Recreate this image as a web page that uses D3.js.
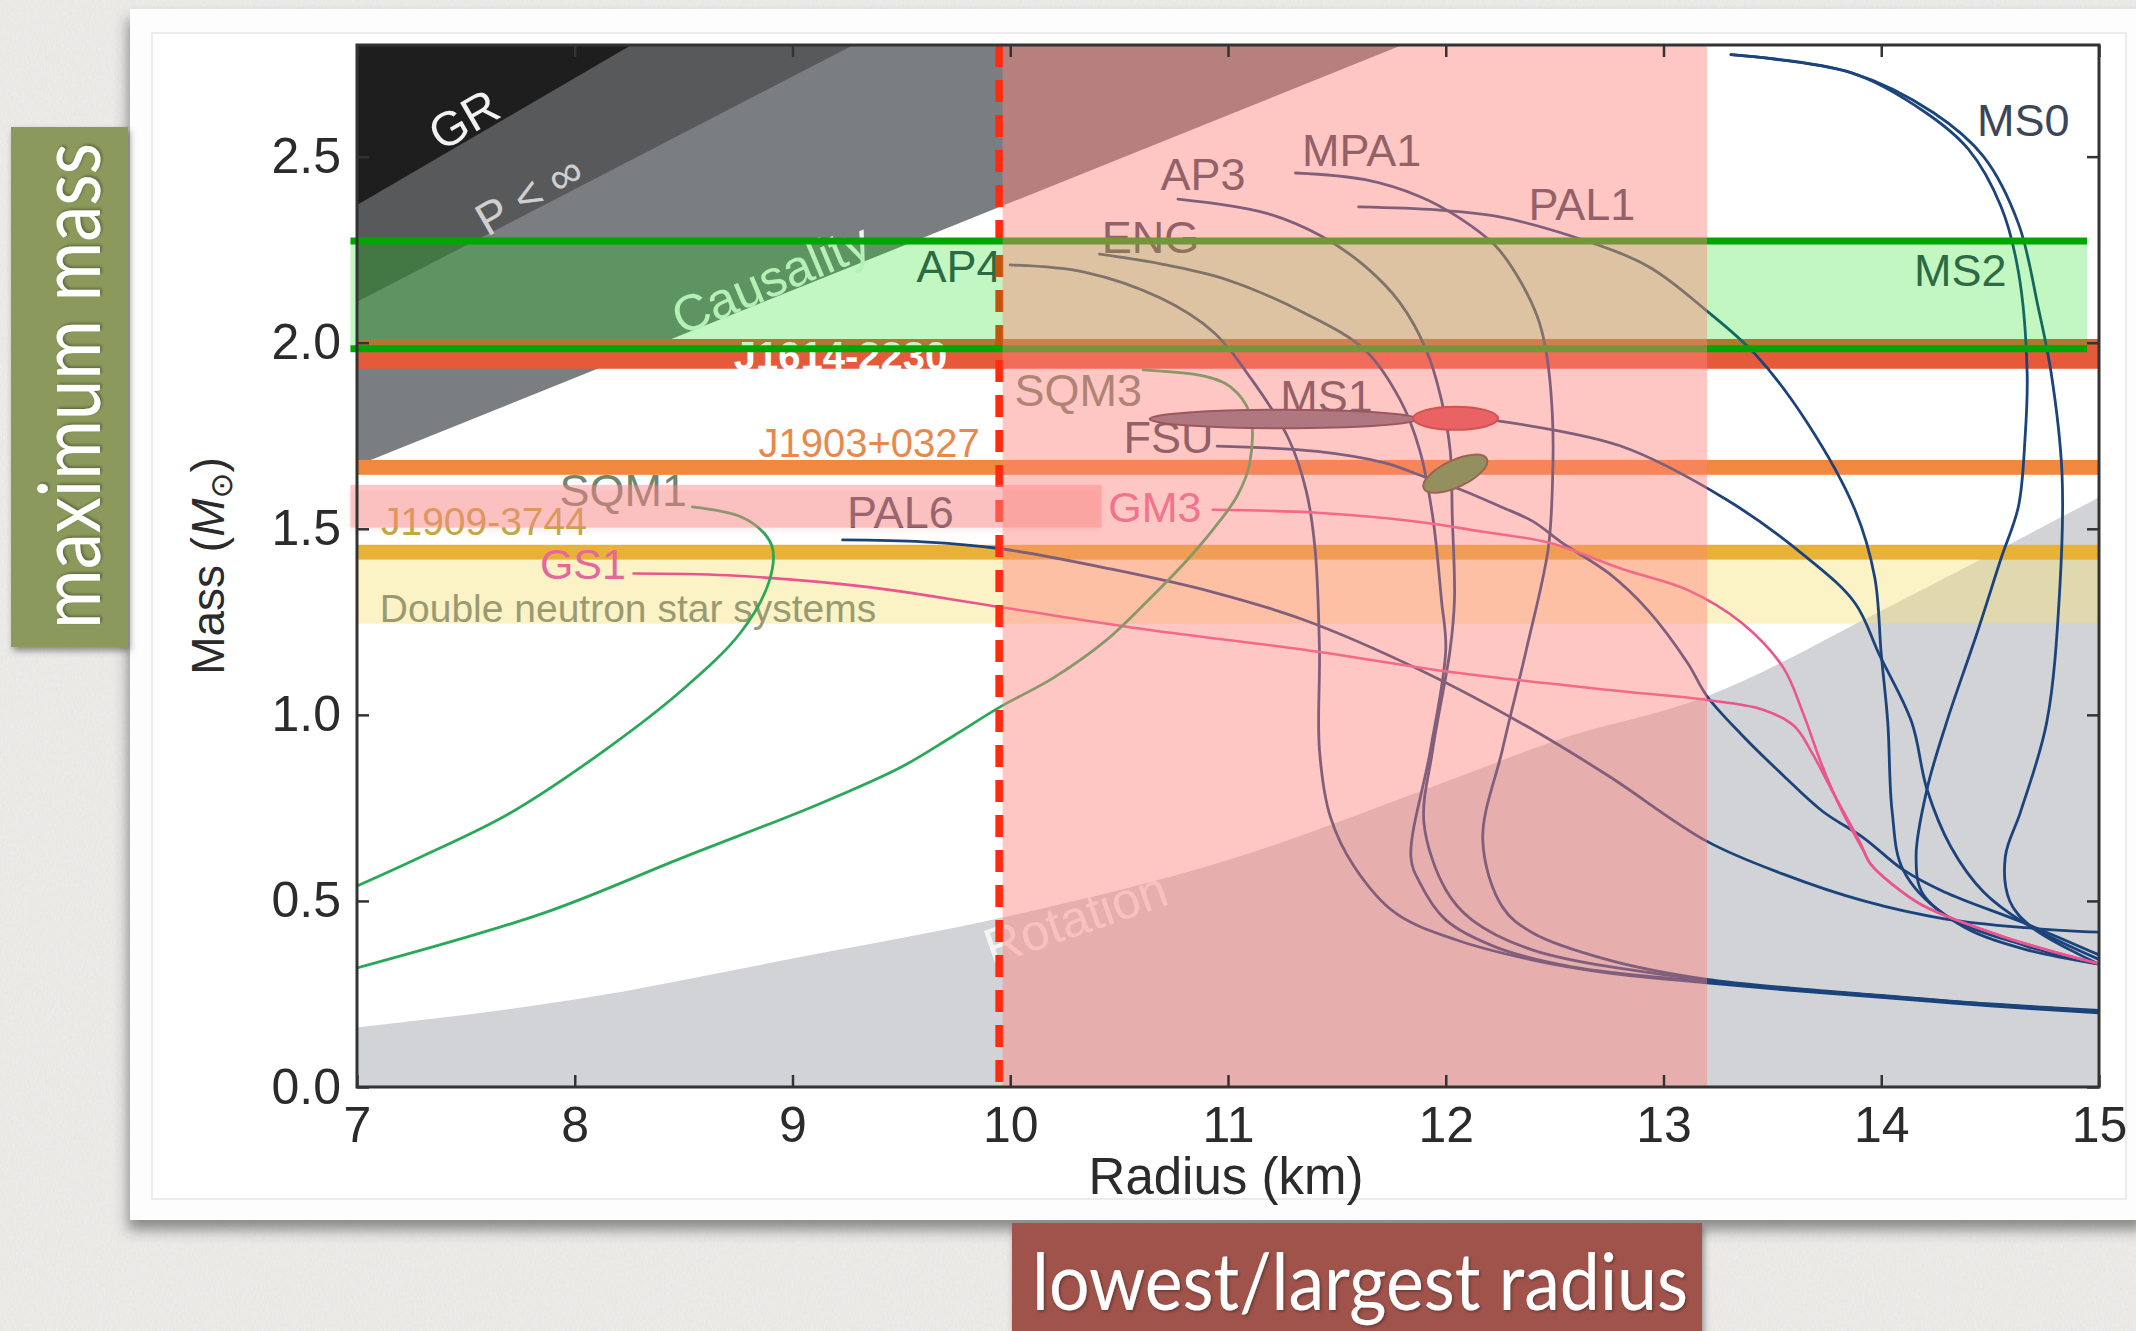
<!DOCTYPE html>
<html>
<head>
<meta charset="utf-8">
<script src="https://cdnjs.cloudflare.com/ajax/libs/d3/7.8.5/d3.min.js"></script>
<style>
  html, body { margin: 0; padding: 0; background: #eeece9; overflow: hidden; }
  svg { display: block; }
</style>
</head>
<body>
<svg id="chart" width="2136" height="1331"></svg>
<script>
// ---------- Mass–radius relations: [radius (km), mass (M_sun)] ----------
// Nucleonic equations of state
const AP4  = [[10.0,2.209],[10.34,2.19],[10.69,2.12],[10.93,2.03],[11.11,1.9],[11.28,1.74],[11.36,1.6],[11.4,1.444],[11.42,1.175],[11.42,0.906],[11.47,0.726],[11.58,0.592],[11.77,0.467],[12.05,0.395],[12.4,0.341],[12.75,0.306],[13.2,0.28],[13.6,0.259],[14.0,0.241],[14.5,0.218],[15.0,0.199]];
const ENG  = [[10.41,2.238],[10.69,2.212],[10.99,2.17],[11.35,2.08],[11.63,1.98],[11.79,1.847],[11.88,1.712],[11.94,1.533],[11.98,1.31],[12.0,1.175],[11.93,0.906],[11.84,0.618],[11.88,0.55],[12.0,0.449],[12.23,0.376],[12.58,0.323],[13.2,0.283],[13.6,0.261],[14.0,0.243],[14.5,0.22],[15.0,0.202]];
const AP3  = [[10.77,2.386],[11.17,2.349],[11.43,2.286],[11.63,2.205],[11.79,2.107],[11.91,1.981],[11.98,1.847],[12.02,1.712],[12.03,1.533],[12.04,1.31],[12.02,1.175],[11.94,0.906],[11.9,0.709],[12.0,0.53],[12.12,0.449],[12.4,0.368],[13.2,0.286],[13.6,0.263],[14.0,0.245],[14.5,0.222],[15.0,0.204]];
const MPA1 = [[11.31,2.456],[11.63,2.438],[11.88,2.393],[12.05,2.34],[12.23,2.259],[12.33,2.178],[12.42,2.071],[12.46,1.98],[12.49,1.802],[12.49,1.62],[12.47,1.444],[12.37,1.175],[12.26,0.906],[12.17,0.664],[12.26,0.484],[12.4,0.414],[12.75,0.341],[13.2,0.289],[13.6,0.265],[14.0,0.246],[14.5,0.223],[15.0,0.206]];
const PAL1 = [[11.6,2.365],[11.96,2.357],[12.23,2.34],[12.58,2.286],[12.93,2.205],[13.2,2.085],[13.42,1.97],[13.66,1.785],[13.88,1.55],[13.97,1.37],[14.0,1.163],[14.03,0.98],[14.05,0.74],[14.1,0.584],[14.29,0.464],[14.66,0.38],[15.0,0.33]];
const MS1  = [[12.24,1.79],[12.8,1.723],[13.29,1.578],[13.66,1.422],[13.88,1.3],[13.99,1.163],[14.14,0.98],[14.21,0.8],[14.32,0.645],[14.47,0.524],[14.66,0.44],[15.0,0.343]];
const FSU  = [[10.95,1.722],[11.41,1.708],[11.72,1.677],[11.9,1.64],[12.07,1.605],[12.25,1.56],[12.4,1.52],[12.54,1.46],[12.75,1.38],[12.93,1.28],[13.11,1.14],[13.2,1.05],[13.36,0.946],[13.55,0.837],[13.73,0.741],[13.92,0.669],[14.1,0.584],[14.29,0.524],[14.66,0.44],[15.0,0.355]];
const PAL6 = [[9.23,1.47],[9.6,1.465],[9.95,1.447],[10.46,1.392],[10.93,1.33],[11.35,1.255],[11.88,1.121],[12.4,0.96],[12.75,0.835],[13.2,0.66],[13.55,0.572],[13.92,0.5],[14.29,0.452],[14.66,0.428],[15.0,0.416]];
const MS0  = [[13.31,2.774],[13.86,2.726],[14.24,2.618],[14.47,2.5],[14.63,2.32],[14.72,2.097],[14.78,1.92],[14.83,1.65],[14.82,1.34],[14.76,0.98],[14.64,0.74],[14.57,0.62],[14.59,0.5],[14.69,0.43],[15.0,0.33]];
const MS2  = [[13.31,2.774],[13.86,2.726],[14.2,2.62],[14.4,2.52],[14.55,2.366],[14.63,2.19],[14.67,1.92],[14.66,1.74],[14.63,1.56],[14.55,1.42],[14.44,1.22],[14.3,0.98],[14.21,0.8],[14.16,0.62],[14.19,0.52],[14.38,0.43],[14.66,0.37],[15.0,0.33]];
// Nucleons plus exotic matter
const GS1  = [[8.27,1.38],[8.7,1.375],[9.34,1.344],[9.95,1.29],[10.64,1.228],[11.35,1.175],[12.05,1.113],[12.75,1.067],[13.2,1.04],[13.45,1.015],[13.6,0.97],[13.68,0.9],[13.78,0.79],[13.9,0.66],[13.95,0.6],[14.05,0.545],[14.19,0.488],[14.56,0.404],[15.0,0.331]];
const GM3  = [[10.93,1.551],[11.41,1.543],[11.87,1.519],[12.17,1.492],[12.48,1.462],[12.81,1.392],[13.11,1.336],[13.36,1.247],[13.55,1.127],[13.64,1.006],[13.73,0.861],[13.82,0.741],[13.92,0.633],[13.95,0.6],[14.05,0.545],[14.19,0.488],[14.56,0.404],[15.0,0.331]];
// Strange quark matter
const SQM1 = [[8.54,1.559],[8.76,1.533],[8.87,1.488],[8.91,1.443],[8.89,1.354],[8.76,1.22],[8.5,1.07],[8.15,0.91],[7.7,0.735],[7.3,0.62],[7.0,0.54]];
const SQM3 = [[10.61,1.927],[10.9,1.909],[11.01,1.882],[11.1,1.81],[11.1,1.677],[11.04,1.586],[10.93,1.497],[10.8,1.408],[10.62,1.3],[10.44,1.2],[10.2,1.1],[9.95,1.02],[9.74,0.944],[9.5,0.86],[9.12,0.76],[8.49,0.615],[7.86,0.468],[7.0,0.32]];

// ---------- Excluded regions (boundary points) ----------
const GR_EDGE        = [[7,2.37],[8.26,2.8]];
const PINF_EDGE      = [[7,2.11],[9.28,2.8]];
const CAUSALITY_EDGE = [[7,1.67],[11.8,2.8]];
const ROTATION_EDGE  = [[7,0.16],[8,0.235],[9,0.345],[10,0.46],[11,0.61],[12,0.82],[12.5,0.93],[13.2,1.05],[14,1.28],[15,1.585]];

// ---------- Pulsar mass measurements (mass ranges) ----------
const J1614_BAND  = [1.93, 2.01];
const J1903_BAND  = [1.645, 1.685];
const J1909_BAND  = [1.417, 1.457];
const DNS_BAND    = [1.245, 1.417];

// ---------- Highlighted constraints ----------
const MAX_MASS_BAND   = [1.984, 2.273];
const MAX_MASS_RADII  = [6.97, 14.945];
const RADIUS_BAND     = [9.965, 13.2];
const RADIUS_LIMIT    = 9.95;
const HIGHLIGHT_MASS  = [1.503, 1.618];
const HIGHLIGHT_RADII = [6.97, 10.42];

// ---------- Measurement ellipses: [radius, mass, half-width km, half-height M] ----------
const MS1_ELONGATED = [11.255, 1.795, 0.615, 0.025];
const RED_ELLIPSE   = [12.045, 1.797, 0.195, 0.031];
const GREEN_ELLIPSE = [12.044, 1.648, 0.16, 0.036];

// ---------- Axis ticks ----------
const R_TICKS = [7, 8, 9, 10, 11, 12, 13, 14, 15];
const M_TICKS = [0, 0.5, 1.0, 1.5, 2.0, 2.5];

// ---------- Curve labels: [text, radius, mass, anchor] ----------
const NUC_LABELS = [["AP4",9.96,2.164,"end"],["ENG",10.42,2.24,"start"],["AP3",10.69,2.41,"start"],["MPA1",11.34,2.475,"start"],["PAL1",12.38,2.33,"start"],["MS0",14.44,2.555,"start"],["MS2",14.15,2.152,"start"],["MS1",11.24,1.814,"start"],["FSU",10.52,1.704,"start"],["PAL6",9.25,1.503,"start"]];
const EXOTIC_LABELS = [["GM3",10.45,1.519,"start"],["GS1",7.84,1.366,"start"]];
const QUARK_LABELS  = [["SQM3",10.02,1.83,"start"],["SQM1",7.93,1.56,"start"]];

// ================================================================
const svg = d3.select("#chart");
const W = 2136, H = 1331;

const x = d3.scaleLinear().domain([7, 15]).range([357, 2099]);
const y = d3.scaleLinear().domain([0, 2.8]).range([1087, 45]);

const defs = svg.append("defs");

const paper = defs.append("filter").attr("id", "paper").attr("x", 0).attr("y", 0).attr("width", 1).attr("height", 1);
paper.append("feTurbulence").attr("type", "fractalNoise").attr("baseFrequency", "0.9 0.25").attr("numOctaves", 3).attr("seed", 7);
paper.append("feColorMatrix").attr("type", "matrix")
  .attr("values", "0 0 0 0 0.45  0 0 0 0 0.45  0 0 0 0 0.44  0 0 0 0.16 0");

const cardShadow = defs.append("filter").attr("id", "cardShadow").attr("x", "-5%").attr("y", "-5%").attr("width", "110%").attr("height", "115%");
cardShadow.append("feDropShadow").attr("dx", -2).attr("dy", 10).attr("stdDeviation", 7).attr("flood-color", "#3a3a3a").attr("flood-opacity", 0.55);

const boxShadow = defs.append("filter").attr("id", "boxShadow").attr("x", "-20%").attr("y", "-20%").attr("width", "140%").attr("height", "140%");
boxShadow.append("feDropShadow").attr("dx", 2).attr("dy", 4).attr("stdDeviation", 3).attr("flood-color", "#333").attr("flood-opacity", 0.5);

const textShadow = defs.append("filter").attr("id", "textShadow").attr("x", "-10%").attr("y", "-10%").attr("width", "120%").attr("height", "120%");
textShadow.append("feDropShadow").attr("dx", 1.5).attr("dy", 1.5).attr("stdDeviation", 1.5).attr("flood-color", "#000").attr("flood-opacity", 0.35);

const softShadow = defs.append("filter").attr("id", "softShadow").attr("x", "-5%").attr("y", "-50%").attr("width", "110%").attr("height", "200%");
softShadow.append("feDropShadow").attr("dx", 0).attr("dy", 3).attr("stdDeviation", 3).attr("flood-color", "#d08080").attr("flood-opacity", 0.35);

defs.append("clipPath").attr("id", "plotClip").append("rect")
  .attr("x", x(7)).attr("y", y(2.8)).attr("width", x(15) - x(7)).attr("height", y(0) - y(2.8));

// ---------- Page background (paper) ----------
svg.append("rect").attr("width", W).attr("height", H).attr("fill", "#efeeeb");
svg.append("rect").attr("width", W).attr("height", H).attr("filter", "url(#paper)");

// ---------- Card holding the figure ----------
svg.append("rect").attr("x", 130).attr("y", 9).attr("width", W - 120).attr("height", 1211)
  .attr("fill", "#fdfdfd").attr("filter", "url(#cardShadow)");
svg.append("rect").attr("x", 152).attr("y", 33).attr("width", 1974).attr("height", 1166)
  .attr("fill", "#ffffff").attr("stroke", "#e6e6e6").attr("stroke-width", 1.5);

// ---------- Plot layers ----------
const plot = svg.append("g").attr("clip-path", "url(#plotClip)");

// rotation limit
const rotArea = d3.area().x(d => x(d[0])).y0(y(0)).y1(d => y(d[1])).curve(d3.curveMonotoneX);
plot.append("path").datum(ROTATION_EDGE).attr("d", rotArea).attr("fill", "#d1d3d6");

// GR, finite pressure and causality limits
const upperArea = d3.area().x(d => x(d[0])).y0(y(2.8)).y1(d => y(d[1]));
plot.append("path").datum(CAUSALITY_EDGE).attr("d", upperArea).attr("fill", "#7b7e81");
plot.append("path").datum(PINF_EDGE).attr("d", upperArea).attr("fill", "#58595b");
plot.append("path").datum(GR_EDGE).attr("d", upperArea).attr("fill", "#1e1e1e");

// pulsar mass bands
function band(range, fill, opacity) {
  plot.append("rect")
    .attr("x", x(7)).attr("width", x(15) - x(7))
    .attr("y", y(range[1])).attr("height", y(range[0]) - y(range[1]))
    .attr("fill", fill).attr("fill-opacity", opacity);
}
band(DNS_BAND, "#f5df78", 0.42);
band(J1909_BAND, "#e8b238", 1);
band(J1903_BAND, "#f0883e", 1);
band(J1614_BAND, "#e65a3c", 1);

// region labels
const FONT = "'Liberation Sans', Arial, Helvetica, sans-serif";
function rotLabel(txt, r, m, angle, size, fill, opacity) {
  plot.append("text").attr("transform", `translate(${x(r)},${y(m)}) rotate(${angle})`)
    .attr("text-anchor", "middle").attr("dy", "0.35em")
    .attr("font-family", FONT).attr("font-size", size)
    .attr("fill", fill).attr("fill-opacity", opacity).text(txt);
}
rotLabel("GR", 7.49, 2.6, -30, 48, "#f2f2f2", 1);
rotLabel("P < \u221E", 7.79, 2.398, -30, 46, "#cfcfcf", 1);
rotLabel("Causality", 8.9, 2.172, -23, 51, "#eef6ee", 1);
rotLabel("Rotation", 10.3, 0.455, -19, 51, "#ffffff", 0.75);

// band labels
function bandLabel(txt, r, m, anchor, size, fill, weight) {
  plot.append("text").attr("x", x(r)).attr("y", y(m)).attr("text-anchor", anchor)
    .attr("font-family", FONT).attr("font-size", size).attr("font-weight", weight || "normal")
    .attr("fill", fill).text(txt);
}
bandLabel("J1614-2230", 8.73, 1.927, "start", 40, "#ffffff", "bold");
bandLabel("J1903+0327", 9.86, 1.694, "end", 40, "#e8894a");
bandLabel("J1909-3744", 7.11, 1.483, "start", 39, "#c3ab3a");
bandLabel("Double neutron star systems", 7.105, 1.25, "start", 39, "#9a9a72");

// mass–radius curves
const mrLine = d3.line().x(d => x(d[0])).y(d => y(d[1])).curve(d3.curveCatmullRom.alpha(0.5));
function curve(data, color, width) {
  plot.append("path").datum(data).attr("d", mrLine)
    .attr("fill", "none").attr("stroke", color).attr("stroke-width", width)
    .attr("stroke-linejoin", "round").attr("stroke-linecap", "round");
}
const NAVY = "#1b437c", PINK = "#ea5590", GREEN = "#2aa85a";
[AP4, ENG, AP3, MPA1, PAL1, MS1, FSU, PAL6, MS0, MS2].forEach(c => curve(c, NAVY, 2.8));
[GS1, GM3].forEach(c => curve(c, PINK, 2.6));
[SQM1, SQM3].forEach(c => curve(c, GREEN, 2.8));

// curve labels
function curveLabel(l, fill, size) {
  plot.append("text").attr("x", x(l[1])).attr("y", y(l[2])).attr("text-anchor", l[3])
    .attr("font-family", FONT).attr("font-size", size).attr("fill", fill).text(l[0]);
}
NUC_LABELS.forEach(l => curveLabel(l, "#3b4658", 45));
EXOTIC_LABELS.forEach(l => curveLabel(l, "#e6679a", 43));
QUARK_LABELS.forEach(l => curveLabel(l, "#6f8570", 45));

// measurement ellipses
function ellipse(e, fill, stroke, angle) {
  const cx = x(e[0]), cy = y(e[1]);
  plot.append("ellipse").attr("cx", cx).attr("cy", cy)
    .attr("rx", x(e[0] + e[2]) - x(e[0])).attr("ry", y(e[1]) - y(e[1] + e[3]))
    .attr("transform", `rotate(${angle},${cx},${cy})`)
    .attr("fill", fill).attr("stroke", stroke).attr("stroke-width", 2);
}
ellipse(MS1_ELONGATED, "#6e6f86", "#4a3444", 0);
ellipse(RED_ELLIPSE, "#d84a50", "#b02c30", 0);
ellipse(GREEN_ELLIPSE, "#3d9a48", "#4a4a2e", -25);

// ---------- Overlays ----------
// lower radius limit (dashed)
svg.append("line").attr("x1", x(RADIUS_LIMIT)).attr("x2", x(RADIUS_LIMIT))
  .attr("y1", y(2.8)).attr("y2", y(0))
  .attr("stroke", "#ff2a10").attr("stroke-width", 8).attr("stroke-dasharray", "22,13");

// maximum-mass band
svg.append("rect").attr("x", x(MAX_MASS_RADII[0])).attr("width", x(MAX_MASS_RADII[1]) - x(MAX_MASS_RADII[0]))
  .attr("y", y(MAX_MASS_BAND[1])).attr("height", y(MAX_MASS_BAND[0]) - y(MAX_MASS_BAND[1]))
  .attr("fill", "rgb(0,220,0)").attr("fill-opacity", 0.24);
MAX_MASS_BAND.forEach(m => {
  svg.append("line").attr("x1", x(MAX_MASS_RADII[0])).attr("x2", x(MAX_MASS_RADII[1]))
    .attr("y1", y(m)).attr("y2", y(m)).attr("stroke", "#00a600").attr("stroke-width", 7);
});

// radius range
svg.append("rect").attr("x", x(RADIUS_BAND[0])).attr("width", x(RADIUS_BAND[1]) - x(RADIUS_BAND[0]))
  .attr("y", y(2.8)).attr("height", y(0) - y(2.8))
  .attr("fill", "rgb(255,130,125)").attr("fill-opacity", 0.45);

// highlighted mass strip
svg.append("rect").attr("x", x(HIGHLIGHT_RADII[0])).attr("width", x(HIGHLIGHT_RADII[1]) - x(HIGHLIGHT_RADII[0]))
  .attr("y", y(HIGHLIGHT_MASS[1])).attr("height", y(HIGHLIGHT_MASS[0]) - y(HIGHLIGHT_MASS[1]))
  .attr("fill", "rgb(255,130,130)").attr("fill-opacity", 0.42).attr("filter", "url(#softShadow)");

// ---------- Axes ----------
const axisG = svg.append("g").attr("font-family", FONT);
axisG.append("rect").attr("x", x(7)).attr("y", y(2.8)).attr("width", x(15) - x(7)).attr("height", y(0) - y(2.8))
  .attr("fill", "none").attr("stroke", "#333").attr("stroke-width", 3);

function styleAxis(g) {
  g.select(".domain").remove();
  g.selectAll(".tick line").attr("stroke", "#333").attr("stroke-width", 2.5);
  g.selectAll(".tick text").attr("fill", "#2b2b2b").attr("font-size", 50).attr("font-family", FONT);
}
axisG.append("g").attr("transform", `translate(0,${y(0)})`)
  .call(d3.axisBottom(x).tickValues(R_TICKS).tickSize(-12).tickPadding(19).tickFormat(d3.format("d")))
  .call(styleAxis);
axisG.append("g").attr("transform", `translate(${x(7)},0)`)
  .call(d3.axisLeft(y).tickValues(M_TICKS).tickSize(-12).tickPadding(16).tickFormat(d3.format(".1f")))
  .call(styleAxis);
axisG.append("g").attr("transform", `translate(0,${y(2.8)})`)
  .call(d3.axisTop(x).tickValues(R_TICKS).tickSize(-12).tickFormat(""))
  .call(styleAxis);
axisG.append("g").attr("transform", `translate(${x(15)},0)`)
  .call(d3.axisRight(y).tickValues(M_TICKS).tickSize(-12).tickFormat(""))
  .call(styleAxis);

axisG.append("text").attr("x", (x(7) + x(15)) / 2 - 2).attr("y", 1194).attr("text-anchor", "middle")
  .attr("font-size", 51).attr("fill", "#2b2b2b").text("Radius (km)");

const yTitle = axisG.append("text").attr("transform", `translate(224,${y(1.4)}) rotate(-90)`)
  .attr("text-anchor", "middle").attr("font-size", 46).attr("fill", "#2b2b2b");
yTitle.append("tspan").text("Mass (");
yTitle.append("tspan").attr("font-style", "italic").text("M");
yTitle.append("tspan").attr("font-size", 31).attr("baseline-shift", "-25%").attr("font-family", "'DejaVu Sans', sans-serif").text("\u2299");
yTitle.append("tspan").text(")");

// ---------- Callout boxes ----------
svg.append("rect").attr("x", 11).attr("y", 127).attr("width", 117).attr("height", 520)
  .attr("fill", "#8b9a5b").attr("filter", "url(#boxShadow)");
svg.append("text").attr("transform", "translate(100,386) rotate(-90)")
  .attr("text-anchor", "middle").attr("font-family", "Lato, 'Open Sans', sans-serif")
  .attr("font-size", 86).attr("fill", "#ffffff").attr("filter", "url(#textShadow)")
  .attr("textLength", 486).attr("lengthAdjust", "spacingAndGlyphs")
  .text("maximum mass");

svg.append("rect").attr("x", 1012).attr("y", 1223).attr("width", 690).attr("height", 110)
  .attr("fill", "#a0524b").attr("filter", "url(#boxShadow)");
svg.append("text").attr("x", 1360).attr("y", 1310)
  .attr("text-anchor", "middle").attr("font-family", "Lato, 'Open Sans', sans-serif")
  .attr("font-size", 80).attr("fill", "#ffffff").attr("filter", "url(#textShadow)")
  .attr("textLength", 656).attr("lengthAdjust", "spacingAndGlyphs")
  .text("lowest/largest radius");
</script>
</body>
</html>
